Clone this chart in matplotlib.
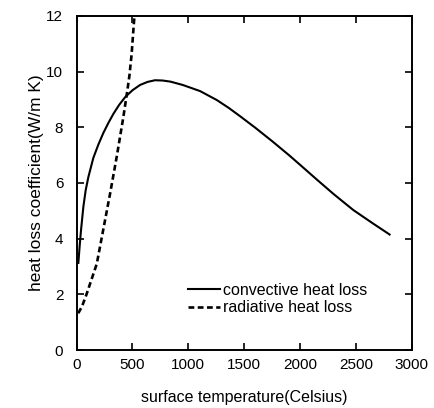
import numpy as np
import matplotlib.pyplot as plt

plt.rcParams['font.family'] = ['Liberation Sans', 'DejaVu Sans']

# convective heat loss
conv_T = [16, 28, 40, 61, 82, 106, 150, 195, 240, 285, 329, 380, 434, 500, 568,
          635, 702, 770, 840, 950, 1105, 1254, 1360, 1462, 1600, 1750, 1900,
          2000, 2150, 2300, 2475, 2650, 2800]
conv_h = [3.13, 3.75, 4.31, 5.15, 5.75, 6.22, 6.9, 7.38, 7.8, 8.16, 8.48, 8.8,
          9.08, 9.33, 9.52, 9.63, 9.69, 9.68, 9.64, 9.52, 9.3, 8.98, 8.7,
          8.4, 7.98, 7.5, 7.0, 6.65, 6.12, 5.6, 5.03, 4.55, 4.15]

# radiative heat loss
rad_T = [15, 50, 89, 135, 181, 240, 300, 360, 419, 455, 473, 492, 512, 530]
rad_h = [1.32, 1.58, 2.0, 2.55, 3.1, 4.35, 5.62, 6.96, 8.38, 9.34, 9.86, 10.6,
         11.7, 12.6]

fig = plt.figure(figsize=(4.35, 4.08), dpi=100)
ax = fig.add_axes([0.176, 0.142, 0.771, 0.819])

ax.plot(conv_T, conv_h, 'k-', lw=1.5, label='convective heat loss')
ax.plot(rad_T, rad_h, 'k--', lw=1.9, dashes=(2.2, 1.3), label='radiative heat loss')

ax.set_xlim(0, 3000)
ax.set_ylim(0, 12)
ax.set_xticks(np.arange(0, 3001, 500))
ax.set_yticks(np.arange(0, 13, 2))
ax.tick_params(direction='in', top=True, right=True, length=5, width=1.2,
               labelsize=11)
ax.tick_params(axis='x', pad=6)
ax.tick_params(axis='y', pad=9.5)
for s in ax.spines.values():
    s.set_linewidth(1.4)

ax.set_xlabel('surface temperature(Celsius)', fontsize=11.5, labelpad=13)
ax.set_ylabel('heat loss coefficient(W/m K)', fontsize=12.5, labelpad=2)

ax.legend(loc='center left', bbox_to_anchor=(0.332, 0.153), frameon=False,
          fontsize=11.5, handlelength=2.0, handletextpad=0.2, labelspacing=0.15,
          borderpad=0, borderaxespad=0)

fig.savefig('out.png', dpi=100)
